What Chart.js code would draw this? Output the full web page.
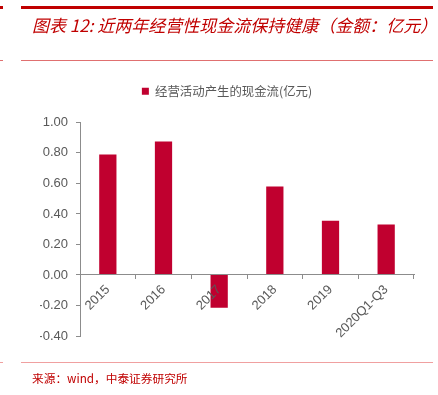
<!DOCTYPE html>
<html>
<head>
<meta charset="utf-8">
<script src="https://cdn.jsdelivr.net/npm/chart.js@4"></script>
<style>
  body { margin: 0; background: #fff; }
  #wrap { position: relative; width: 438px; height: 395px; overflow: hidden; }
  #chart { position: absolute; left: 0; top: 0; }
  .line { position: absolute; }
  #title { position: absolute; left: 32px; top: 12px; font: italic 17px "Noto Sans CJK SC", sans-serif; color: #c00000; white-space: nowrap; }
  #source { position: absolute; left: 32px; top: 369px; font: 11.7px "Noto Sans CJK SC", sans-serif; color: #c00000; white-space: nowrap; }
</style>
</head>
<body>
<div id="wrap">
  <canvas id="chart" width="438" height="395"></canvas>
  <div class="line" style="left:0;top:6px;width:3px;height:3px;background:#c00000"></div>
  <div class="line" style="left:21px;top:6px;width:412px;height:3px;background:#c00000"></div>
  <div id="title">图表 12: 近两年经营性现金流保持健康（金额：亿元）</div>
  <div class="line" style="left:0;top:60px;width:3px;height:1px;background:#e07070"></div>
  <div class="line" style="left:21px;top:60px;width:412px;height:1px;background:#e07070"></div>
  <div class="line" style="left:0;top:362px;width:3px;height:1px;background:#f0a0a0"></div>
  <div class="line" style="left:21px;top:362px;width:412px;height:1px;background:#f0a0a0"></div>
  <div id="source">来源：wind，中泰证券研究所</div>
</div>
<script>
const categories = ["2015", "2016", "2017", "2018", "2019", "2020Q1-Q3"];
const cashFlow = [0.79, 0.875, -0.215, 0.58, 0.355, 0.33];
const seriesName = "经营活动产生的现金流(亿元)";

const gray = "#595959";
const axisGray = "#8c8c8c";

// extra room under the legend
const legendGap = {
  id: "legendGap",
  beforeInit(chart) {
    const fit = chart.legend.fit;
    chart.legend.fit = function () {
      fit.bind(chart.legend)();
      this.height += 15;
    };
  },
};

new Chart(document.getElementById("chart"), {
  type: "bar",
  data: {
    labels: categories,
    datasets: [
      {
        label: seriesName,
        data: cashFlow,
        backgroundColor: "#c0002f",
        borderWidth: 0,
        barPercentage: 0.31,
        categoryPercentage: 1,
      },
    ],
  },
  options: {
    responsive: false,
    animation: false,
    layout: {
      padding: { top: 73, right: 24, bottom: 59, left: 40 },
    },
    scales: {
      x: {
        position: { y: 0 },
        grid: {
          drawOnChartArea: false,
          drawTicks: true,
          tickLength: 4,
          color: axisGray,
        },
        border: { color: axisGray, width: 1, z: 1 },
        ticks: {
          z: 1,
          color: gray,
          font: { family: "Liberation Sans", size: 13 },
          minRotation: 45,
          maxRotation: 45,
          padding: 3,
        },
      },
      y: {
        min: -0.4,
        max: 1.0,
        grid: {
          drawOnChartArea: false,
          drawTicks: true,
          tickLength: 4,
          color: axisGray,
        },
        border: { color: axisGray, width: 1 },
        ticks: {
          stepSize: 0.2,
          color: gray,
          padding: 8,
          font: { family: "Liberation Sans", size: 13 },
          callback: (v) => (Math.abs(v) < 1e-9 ? 0 : v).toFixed(2),
        },
        afterFit: (scale) => {
          scale.width = 40;
        },
      },
    },
    plugins: {
      legend: {
        display: true,
        position: "top",
        labels: {
          color: gray,
          boxWidth: 7,
          boxHeight: 7,
          padding: 12,
          font: { family: "Noto Sans CJK SC", size: 12.4 },
        },
      },
      tooltip: { enabled: false },
    },
  },
  plugins: [legendGap],
});
</script>
</body>
</html>
